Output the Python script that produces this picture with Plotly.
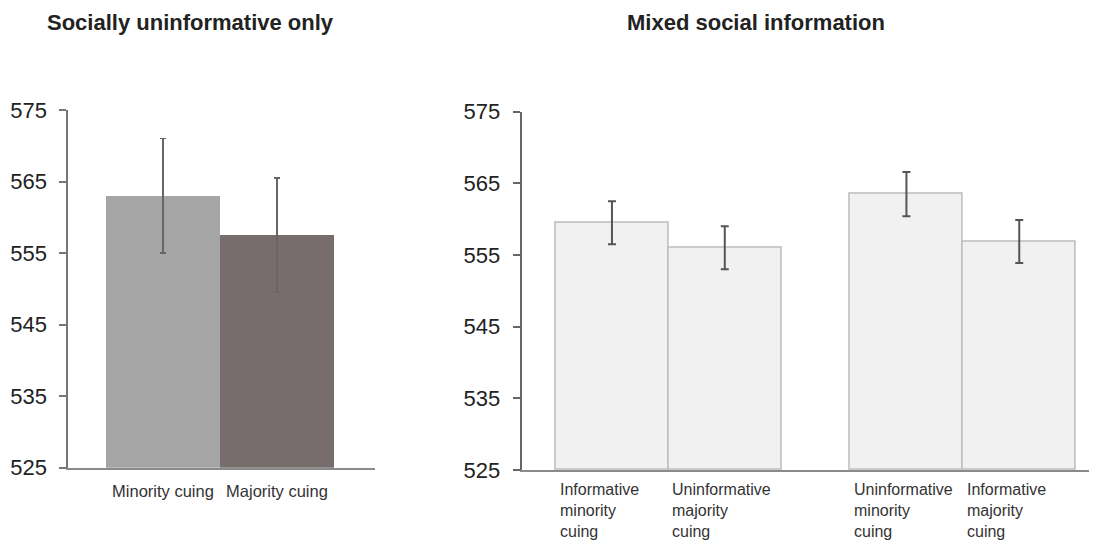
import plotly.graph_objects as go

# ---------------- data ----------------
left_title = "Socially uninformative only"
right_title = "Mixed social information"

left_categories = ["Minority cuing", "Majority cuing"]
left_values = [563.0, 557.5]
left_errors = [8.0, 8.0]

right_categories = [
    "Informative<br>minority<br>cuing",
    "Uninformative<br>majority<br>cuing",
    "Uninformative<br>minority<br>cuing",
    "Informative<br>majority<br>cuing",
]
right_groups = [0, 0, 1, 1]
right_values = [559.5, 556.0, 563.5, 556.9]
right_errors = [3.0, 3.0, 3.1, 3.0]

y_ticks = [525, 535, 545, 555, 565, 575]

# ---------------- layout helpers ----------------
W, H = 1097, 542
OFF = 8  # page body margin in the browser
GROUP_GAP = 0.61  # extra space between the two groups (in bar widths)
right_x = [i + g * GROUP_GAP for i, g in enumerate(right_groups)]

def px_x(p):
    return (p - OFF) / W

def px_y(p):
    return 1 - (p - OFF) / H

FONT = "Liberation Sans, Arial, sans-serif"

fig = go.Figure()

fig.add_trace(go.Bar(
    x=left_categories, y=[v - 525 for v in left_values], base=525,
    width=1.0,
    marker=dict(color=["#a5a5a5", "#766d6c"], line=dict(width=0)),
    error_y=dict(type="data", array=left_errors, color="#666666",
                 thickness=1.3, width=3),
    xaxis="x", yaxis="y", showlegend=False,
))

fig.add_trace(go.Bar(
    x=right_x, y=[v - 525 for v in right_values], base=525,
    width=1.0,
    marker=dict(color="#f1f1f1", line=dict(color="#bcbcbc", width=1.5)),
    error_y=dict(type="data", array=right_errors, color="#555555",
                 thickness=2, width=4),
    xaxis="x2", yaxis="y2", showlegend=False,
))

yaxis_common = dict(
    range=[525, 575], tickvals=y_ticks, ticks="outside", ticklen=7,
    tickwidth=2, showline=True, linewidth=2, showgrid=False, zeroline=False,
    tickfont=dict(family=FONT, size=22, color="#222222"),
    ticklabelstandoff=8,
)

fig.update_layout(
    width=W, height=H,
    margin=dict(l=0, r=0, t=0, b=0, autoexpand=False),
    paper_bgcolor="white", plot_bgcolor="white",
    bargap=0,
    xaxis=dict(
        domain=[px_x(68.3), px_x(375)], range=[-0.83, 1.86],
        showline=True, linewidth=2, linecolor="#8a8a8a", showgrid=False,
        zeroline=False, ticks="", type="category",
        tickfont=dict(family=FONT, size=16.5, color="#333333"),
        ticklabelstandoff=7,
    ),
    yaxis=dict(domain=[px_y(467.7), px_y(110)], linecolor="#777777",
               tickcolor="#777777", anchor="x", **yaxis_common),
    xaxis2=dict(
        domain=[px_x(521.7), 1.0], range=[-0.8, 4.37],
        showline=True, linewidth=2, linecolor="#8a8a8a", showgrid=False,
        zeroline=False, showticklabels=False, ticks="", anchor="y2",
    ),
    yaxis2=dict(domain=[px_y(470), px_y(111.7)], linecolor="#666666",
                tickcolor="#666666", anchor="x2", **yaxis_common),
)

annotations = [
    dict(text="<b>" + left_title + "</b>", xref="paper", yref="paper",
         x=px_x(45), y=1.0, xanchor="left", yanchor="top",
         showarrow=False, font=dict(family=FONT, size=22, color="#222222")),
    dict(text="<b>" + right_title + "</b>", xref="paper", yref="paper",
         x=px_x(625), y=1.0, xanchor="left", yanchor="top",
         showarrow=False, font=dict(family=FONT, size=22, color="#222222")),
]
for xpos, label in zip(right_x, right_categories):
    annotations.append(dict(
        text=label, xref="x2", yref="paper", x=xpos - 0.5, xshift=2,
        y=px_y(479), xanchor="left", yanchor="top", align="left",
        showarrow=False, font=dict(family=FONT, size=16, color="#333333"),
    ))
fig.update_layout(annotations=annotations)

fig.write_html("out.html")
